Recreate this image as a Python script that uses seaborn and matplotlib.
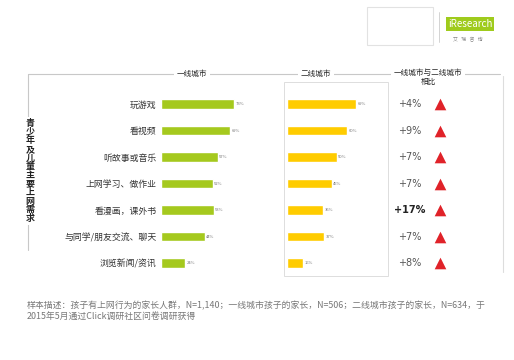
import matplotlib.pyplot as plt
import seaborn as sns
import pandas as pd
from matplotlib.patches import Rectangle

categories = ['玩游戏', '看视频', '听故事或音乐', '上网学习、做作业',
              '看漫画，课外书', '与同学/朋友交流、聊天', '浏览新闻/资讯']
tier1 = [73, 69, 57, 52, 53, 44, 24]
tier2 = [69, 60, 50, 45, 36, 37, 16]
diff_labels = ['+4%', '+9%', '+7%', '+7%', '+17%', '+7%', '+8%']
col_titles = ['一线城市', '二线城市', '一线城市与二线城市\n相比']
side_title = '青少年及儿童主要上网需求'
note = ('样本描述：孩子有上网行为的家长人群，N=1,140；一线城市孩子的家长，N=506；二线城市孩子的家长，N=634，于\n'
        '2015年5月通过Click调研社区问卷调研获得')

sns.set_style('white')
plt.rcParams['font.family'] = ['Noto Sans CJK SC', 'DejaVu Sans']

df = pd.DataFrame({'cat': categories, 'tier1': tier1, 'tier2': tier2})
green = '#a5c91e'
yellow = '#ffcc00'
red = '#e02229'
W, H = 514, 360

fig = plt.figure(figsize=(W / 100, H / 100), dpi=100)

# overlay in pixel coords for frame lines / texts
ax0 = fig.add_axes([0, 0, 1, 1])
ax0.set_xlim(0, W)
ax0.set_ylim(H, 0)
ax0.axis('off')

ax0.plot([28, 500], [74, 74], color='#c8c8c8', lw=0.8)
ax0.plot([28, 28], [74, 250], color='#c8c8c8', lw=0.8)
ax0.plot([503, 503], [76, 272], color='#dddddd', lw=0.8)
ax0.add_patch(Rectangle((284, 82), 104, 194, fill=False, ec='#dddddd', lw=0.7))

for x, y, t in zip([192, 316, 428], [74, 74, 77.5], col_titles):
    ax0.text(x, y, t, ha='center', va='center', fontsize=5.5, color='#222222',
             linespacing=1.1,
             bbox=dict(facecolor='white', edgecolor='none', pad=2))

ax0.text(30, 171, '\n'.join(side_title), ha='center', va='center', fontsize=6.5,
         fontweight='bold', color='#222222', linespacing=0.95,
         bbox=dict(facecolor='white', edgecolor='none', pad=1.5))

ax0.text(27, 311, note, ha='left', va='center', fontsize=6.4, color='#777777',
         linespacing=1.2)

# logo
ax0.add_patch(Rectangle((367, 7), 66, 38, fill=False, ec='#e2e2e2', lw=0.8))
ax0.plot([439, 439], [12, 42], color='#cccccc', lw=0.6)
ax0.text(470, 24, 'iResearch', ha='center', va='center', fontsize=7, color='white',
         bbox=dict(facecolor='#9fcb1c', edgecolor='none', pad=1.2))
ax0.text(468, 40, '艾   瑞   咨   询', ha='center', va='center', fontsize=3.5, color='#888888')

bottom = 1 - 276.25 / H
height = 185.5 / H

ax1 = fig.add_axes([161 / W, bottom, 100 / W, height])
sns.barplot(data=df, x='tier1', y='cat', orient='h', color=green, width=0.36,
            saturation=1, ax=ax1)
ax1.bar_label(ax1.containers[0], labels=[f'{v}%' for v in tier1], fontsize=3,
              padding=1, color='#777777')
ax1.set_xlim(0, 100)
ax1.set_xlabel('')
ax1.set_ylabel('')
ax1.set_xticks([])
ax1.tick_params(axis='y', length=0, pad=3, labelsize=6.4, labelcolor='#333333')
sns.despine(ax=ax1, left=True, bottom=True)
ax1.patch.set_visible(False)

ax2 = fig.add_axes([287 / W, bottom, 100 / W, height])
sns.barplot(data=df, x='tier2', y='cat', orient='h', color=yellow, width=0.36,
            saturation=1, ax=ax2)
ax2.bar_label(ax2.containers[0], labels=[f'{v}%' for v in tier2], fontsize=3,
              padding=1, color='#777777')
ax2.set_xlim(0, 100)
ax2.set_xlabel('')
ax2.set_ylabel('')
ax2.set_xticks([])
ax2.set_yticks([])
sns.despine(ax=ax2, left=True, bottom=True)
ax2.patch.set_visible(False)

ax3 = fig.add_axes([395 / W, bottom, 55 / W, height])
pos = list(range(len(categories)))
sns.scatterplot(x=[45] * len(pos), y=pos, marker='^', color=red, s=70,
                linewidth=0, ax=ax3)
for p, t in zip(pos, diff_labels):
    ax3.text(15, p, t, ha='center', va='center', fontsize=7,
             color='#222222' if t == '+17%' else '#555555',
             fontweight='bold' if t == '+17%' else 'normal',
             family=['DejaVu Sans'])
ax3.set_xlim(0, 55)
ax3.set_ylim(6.5, -0.5)
ax3.axis('off')

fig.savefig('out.png', dpi=100)
